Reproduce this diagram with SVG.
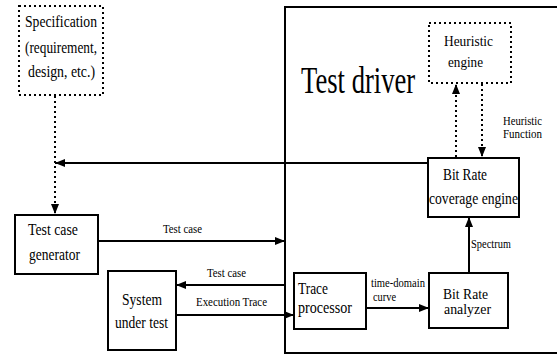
<svg xmlns="http://www.w3.org/2000/svg" width="557" height="354" viewBox="0 0 557 354">
<defs>
<marker id="ah" viewBox="0 0 10 8" refX="10" refY="4" markerWidth="10" markerHeight="8" markerUnits="userSpaceOnUse" orient="auto">
<path d="M0,0 L10,4 L0,8 Z" fill="#000"/>
</marker>
</defs>
<style>
.box{fill:#fff;stroke:#000;stroke-width:2}
.dbox{fill:#fff;stroke:#000;stroke-width:2;stroke-dasharray:2 3}
.ln{fill:none;stroke:#000;stroke-width:2}
.dl{fill:none;stroke:#000;stroke-width:2;stroke-dasharray:2 3}
text{font-family:"Liberation Serif","Times New Roman",serif;fill:#000}
.big{font-size:17px}
.mid{font-size:15px}
.sm{font-size:12px}
</style>
<g id="test-driver">
<rect x="285" y="7" width="290" height="346" class="box"/>
<text transform="translate(301,93) scale(0.72,1)" font-size="37">Test driver</text>
</g>
<g id="specification">
<rect x="19" y="6" width="84" height="89" class="dbox"/>
<text class="big" x="25" y="27" textLength="72" lengthAdjust="spacingAndGlyphs">Specification</text>
<text class="big" x="25" y="53" textLength="72" lengthAdjust="spacingAndGlyphs">(requirement,</text>
<text class="big" x="28" y="77" textLength="67" lengthAdjust="spacingAndGlyphs">design, etc.)</text>
</g>
<g id="heuristic-engine">
<rect x="429" y="23" width="82" height="60" class="dbox"/>
<text class="mid" x="444" y="46" textLength="49" lengthAdjust="spacingAndGlyphs">Heuristic</text>
<text class="mid" x="448" y="67" textLength="35" lengthAdjust="spacingAndGlyphs">engine</text>
</g>
<g id="coverage-engine">
<rect x="428" y="158" width="91" height="59" class="box"/>
<text class="big" x="443" y="180" textLength="44" lengthAdjust="spacingAndGlyphs">Bit Rate</text>
<text class="big" x="429" y="204" textLength="89" lengthAdjust="spacingAndGlyphs">coverage engine</text>
</g>
<g id="test-case-generator">
<rect x="15" y="215" width="83" height="59" class="box"/>
<text class="big" x="28" y="235" textLength="50" lengthAdjust="spacingAndGlyphs">Test case</text>
<text class="big" x="29" y="260" textLength="51" lengthAdjust="spacingAndGlyphs">generator</text>
</g>
<g id="system-under-test">
<rect x="108" y="271" width="68" height="79" class="box"/>
<text class="big" x="122" y="305" textLength="40" lengthAdjust="spacingAndGlyphs">System</text>
<text class="big" x="115" y="328" textLength="53" lengthAdjust="spacingAndGlyphs">under test</text>
</g>
<g id="trace-processor">
<rect x="294" y="273" width="72" height="56" class="box"/>
<text class="big" x="298" y="294" textLength="30" lengthAdjust="spacingAndGlyphs">Trace</text>
<text class="big" x="298" y="313" textLength="54" lengthAdjust="spacingAndGlyphs">processor</text>
</g>
<g id="bit-rate-analyzer">
<rect x="429" y="273" width="79" height="55" class="box"/>
<text class="mid" x="443" y="299" textLength="45" lengthAdjust="spacingAndGlyphs">Bit Rate</text>
<text class="mid" x="444" y="314" textLength="47" lengthAdjust="spacingAndGlyphs">analyzer</text>
</g>
<g id="connectors">
<line x1="55" y1="96" x2="55" y2="214" class="dl" marker-end="url(#ah)"/>
<line x1="428" y1="163" x2="55" y2="163" class="ln" marker-end="url(#ah)"/>
<line x1="98" y1="241" x2="285" y2="241" class="ln" marker-end="url(#ah)"/>
<line x1="285" y1="285" x2="176" y2="285" class="ln" marker-end="url(#ah)"/>
<line x1="176" y1="315" x2="294" y2="315" class="ln" marker-end="url(#ah)"/>
<line x1="366" y1="308" x2="429" y2="308" class="ln" marker-end="url(#ah)"/>
<line x1="469" y1="273" x2="469" y2="217" class="ln" marker-end="url(#ah)"/>
<line x1="456" y1="157" x2="456" y2="84" class="dl" marker-end="url(#ah)"/>
<line x1="482" y1="84" x2="482" y2="157" class="dl" marker-end="url(#ah)"/>
<text class="sm" x="163" y="233" textLength="39" lengthAdjust="spacingAndGlyphs">Test case</text>
<text class="sm" x="207" y="277" textLength="39" lengthAdjust="spacingAndGlyphs">Test case</text>
<text class="sm" x="196" y="306" textLength="71" lengthAdjust="spacingAndGlyphs">Execution Trace</text>
<text class="sm" x="371" y="287" textLength="54" lengthAdjust="spacingAndGlyphs">time-domain</text>
<text class="sm" x="373" y="301" textLength="23" lengthAdjust="spacingAndGlyphs">curve</text>
<text class="sm" x="471" y="248" textLength="40" lengthAdjust="spacingAndGlyphs">Spectrum</text>
<text class="sm" x="503" y="125" textLength="39" lengthAdjust="spacingAndGlyphs">Heuristic</text>
<text class="sm" x="503" y="138" textLength="39" lengthAdjust="spacingAndGlyphs">Function</text>
</g>
</svg>
